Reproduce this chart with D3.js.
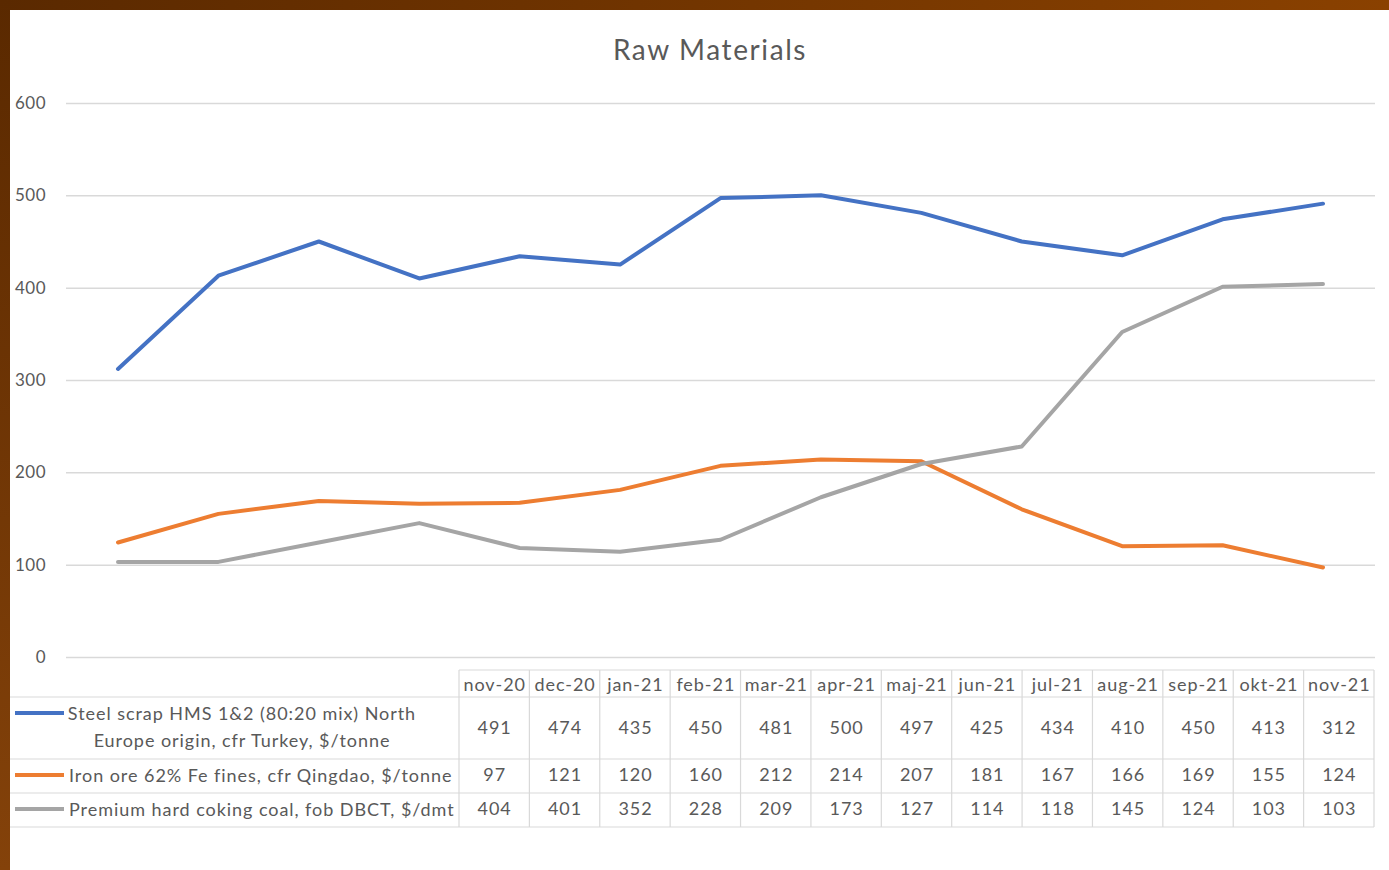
<!DOCTYPE html>
<html>
<head>
<meta charset="utf-8">
<script src="https://cdn.jsdelivr.net/npm/d3@7"></script>
<style>
  body { margin: 0; background: #ffffff; }
  svg { display: block; font-family: Lato, "Open Sans", sans-serif; }
</style>
</head>
<body>
<div id="chart"></div>
<script>
var W = 1389, H = 870;

// data (table order, nov-20 .. nov-21)
var months = ["nov-20", "dec-20", "jan-21", "feb-21", "mar-21", "apr-21", "maj-21",
              "jun-21", "jul-21", "aug-21", "sep-21", "okt-21", "nov-21"];
var steelScrap = [491, 474, 435, 450, 481, 500, 497, 425, 434, 410, 450, 413, 312];
var ironOre    = [97, 121, 120, 160, 212, 214, 207, 181, 167, 166, 169, 155, 124];
var cokingCoal = [404, 401, 352, 228, 209, 173, 127, 114, 118, 145, 124, 103, 103];
var seriesNames = [
    ["Steel scrap HMS 1&2 (80:20 mix) North", "Europe origin, cfr Turkey, $/tonne"],
    ["Iron ore 62% Fe fines, cfr Qingdao, $/tonne"],
    ["Premium hard coking coal, fob DBCT, $/dmt"]
];
var seriesColors = ["#4472c4", "#ed7d31", "#a5a5a5"];
var yTicks = [0, 100, 200, 300, 400, 500, 600];
var title = "Raw Materials";

var series = [steelScrap, ironOre, cokingCoal];
var textCol = "#595959";
var gridCol = "#d9d9d9";

var svg = d3.select("#chart").append("svg")
    .attr("width", W)
    .attr("height", H);

// brown frame along top and left
var defs = svg.append("defs");
var gTop = defs.append("linearGradient").attr("id", "gtop")
    .attr("x1", "0").attr("x2", "1").attr("y1", "0").attr("y2", "0");
gTop.append("stop").attr("offset", "0").attr("stop-color", "#5a2900");
gTop.append("stop").attr("offset", "1").attr("stop-color", "#8a4100");
var gLeft = defs.append("linearGradient").attr("id", "gleft")
    .attr("x1", "0").attr("x2", "0").attr("y1", "0").attr("y2", "1");
gLeft.append("stop").attr("offset", "0").attr("stop-color", "#5a2900");
gLeft.append("stop").attr("offset", "1").attr("stop-color", "#84420a");

svg.append("rect").attr("x", 0).attr("y", 0).attr("width", W).attr("height", 10).attr("fill", "url(#gtop)");
svg.append("rect").attr("x", 0).attr("y", 0).attr("width", 10).attr("height", H).attr("fill", "url(#gleft)");

// scales -- categories are drawn in reverse order, like the original
var x = d3.scalePoint()
    .domain(months)
    .range([1323, 118]);

var y = d3.scaleLinear()
    .domain([0, 600])
    .range([657, 103]);

// title
svg.append("text")
    .attr("x", 710)
    .attr("y", 60)
    .attr("text-anchor", "middle")
    .attr("font-size", "28px")
    .attr("letter-spacing", "1.6px")
    .attr("fill", textCol)
    .text(title);

// y axis, gridlines only
var yAxis = svg.append("g")
    .attr("transform", "translate(66,0)")
    .call(d3.axisLeft(y).tickValues(yTicks).tickSize(-(1375 - 66)).tickPadding(20));
yAxis.select(".domain").remove();
yAxis.selectAll(".tick line").attr("stroke", gridCol).attr("stroke-width", 1.5);
yAxis.selectAll(".tick text")
    .attr("fill", textCol)
    .attr("font-size", "17px")
    .attr("letter-spacing", "0.5px")
    .attr("font-family", "Lato, sans-serif");

// lines
var line = d3.line()
    .x(function(d, i){ return x(months[i]); })
    .y(function(d){ return y(d); });

svg.selectAll("path.series")
    .data(series)
    .join("path")
    .attr("class", "series")
    .attr("d", line)
    .attr("fill", "none")
    .attr("stroke", function(d, i){ return seriesColors[i]; })
    .attr("stroke-width", 4)
    .attr("stroke-linejoin", "round")
    .attr("stroke-linecap", "round");

// data table
var tblLeft = 459, tblRight = 1374;
var colW = (tblRight - tblLeft) / months.length;
var rowLines = [670, 697, 759, 793, 827];
var col = d3.scaleBand().domain(months).range([tblLeft, tblRight]);

var tbl = svg.append("g").attr("stroke", gridCol).attr("stroke-width", 1.2);
// header top border
tbl.append("line").attr("x1", tblLeft).attr("x2", tblRight).attr("y1", rowLines[0]).attr("y2", rowLines[0]);
// body rows, running out to the frame
rowLines.slice(1).forEach(function(r){
    tbl.append("line").attr("x1", 10).attr("x2", tblRight).attr("y1", r).attr("y2", r);
});
// column dividers
d3.range(months.length + 1).forEach(function(i){
    var cx = tblLeft + i * colW;
    tbl.append("line").attr("x1", cx).attr("x2", cx).attr("y1", rowLines[0]).attr("y2", rowLines[4]);
});

var fs = "18px", ls = "0.95px";

// header labels
svg.selectAll("text.hdr")
    .data(months)
    .join("text")
    .attr("class", "hdr")
    .attr("x", function(d){ return col(d) + col.bandwidth() / 2 + 0.5; })
    .attr("y", 691)
    .attr("text-anchor", "middle")
    .attr("font-size", fs)
    .attr("letter-spacing", ls)
    .attr("fill", textCol)
    .text(function(d){ return d; });

// values
var rowMid = [728, 775, 809];
series.forEach(function(vals, s){
    svg.selectAll("text.val" + s)
        .data(vals)
        .join("text")
        .attr("class", "val" + s)
        .attr("x", function(d, i){ return col(months[i]) + col.bandwidth() / 2 + 0.5; })
        .attr("y", rowMid[s] + 6)
        .attr("text-anchor", "middle")
        .attr("font-size", fs)
        .attr("letter-spacing", ls)
        .attr("fill", textCol)
        .text(function(d){ return d; });
});

// legend keys + names
var keyY = [713, 775, 809];
var nameLines = [[720, 747], [782], [816]];
seriesNames.forEach(function(nm, s){
    svg.append("line")
        .attr("x1", 15).attr("x2", 64)
        .attr("y1", keyY[s]).attr("y2", keyY[s])
        .attr("stroke", seriesColors[s])
        .attr("stroke-width", 4);
    nm.forEach(function(t, k){
        var el = svg.append("text")
            .attr("y", nameLines[s][k])
            .attr("font-size", fs)
            .attr("letter-spacing", ls)
            .attr("fill", textCol)
            .text(t);
        if (nm.length > 1) {
            el.attr("x", 242).attr("text-anchor", "middle");
        } else {
            el.attr("x", 69);
        }
    });
});
</script>
</body>
</html>
